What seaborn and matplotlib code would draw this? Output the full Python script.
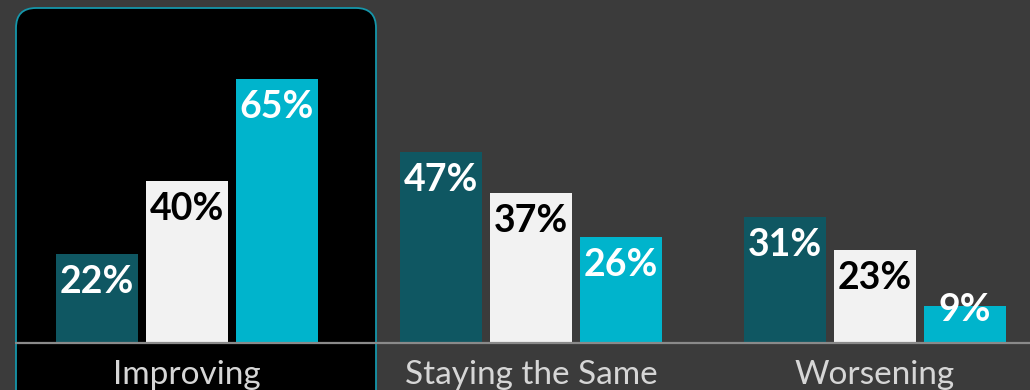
import matplotlib
matplotlib.use("Agg")
import matplotlib.pyplot as plt
from matplotlib.patches import FancyBboxPatch
import seaborn as sns
import pandas as pd

# Survey outlook: share of respondents per answer, for three segments
categories = ["Improving", "Staying the Same", "Worsening"]
series = ["Segment A", "Segment B", "Segment C"]
segment_a = [22, 47, 31]
segment_b = [40, 37, 23]
segment_c = [65, 26, 9]

bar_colors = ["#0f5762", "#f2f2f2", "#00b4cc"]
label_colors = ["white", "black", "white"]
bg = "#3b3b3b"

rows = []
for s, vals in zip(series, [segment_a, segment_b, segment_c]):
    for c, v in zip(categories, vals):
        rows.append({"category": c, "series": s, "value": v})
df = pd.DataFrame(rows)

sns.set_theme(style="white")
plt.rcParams["font.family"] = ["Lato", "DejaVu Sans"]

W, H = 1030, 390
fig = plt.figure(figsize=(W / 100, H / 100), dpi=100)
fig.patch.set_facecolor(bg)

# backdrop layer in pixel units holding the highlight panel
back = fig.add_axes([0, 0, 1, 1], zorder=0)
back.set_xlim(0, W)
back.set_ylim(0, H)
back.axis("off")
back.add_patch(FancyBboxPatch((16, -30), 360, H - 8 + 30,
                              boxstyle="round,pad=0,rounding_size=20",
                              facecolor="black", edgecolor="#1596aa",
                              linewidth=1.3))

ax = fig.add_axes([0, 47 / H, 1, 343 / H], zorder=1)
ax.set_facecolor("none")

sns.barplot(data=df, x="category", y="value", hue="series",
            order=categories, hue_order=series, palette=bar_colors,
            width=0.785, gap=0.09, saturation=1, ax=ax, legend=False,
            linewidth=0)

ax.set_xlim(-187 / 344, (W - 187) / 344)
ax.set_ylim(0, 343 / 4.06)

# value labels sit inside the bar top, but never lower than a floor above the axis
px_per_unit = ax.transData.transform((0, 1))[1] - ax.transData.transform((0, 0))[1]
for cont, vals, col in zip(ax.containers, [segment_a, segment_b, segment_c], label_colors):
    for bar, v in zip(cont, vals):
        drop_px = min(28, v * px_per_unit - 33)
        ax.annotate(f"{v}%", (bar.get_x() + bar.get_width() / 2, v),
                    xytext=(0, -drop_px * 0.72), textcoords="offset points",
                    ha="center", va="center", fontsize=27,
                    fontweight="bold", color=col)

ax.axhline(0, xmin=16 / W, xmax=1, color="#8a8a8a", linewidth=1.6, clip_on=False)

for s in ax.spines.values():
    s.set_visible(False)
ax.set_yticks([])
ax.set_xlabel("")
ax.set_ylabel("")
ax.tick_params(axis="x", length=0, pad=12, labelsize=24, labelcolor="#d6d6d6")

fig.savefig("out.png", dpi=100, facecolor=bg)
